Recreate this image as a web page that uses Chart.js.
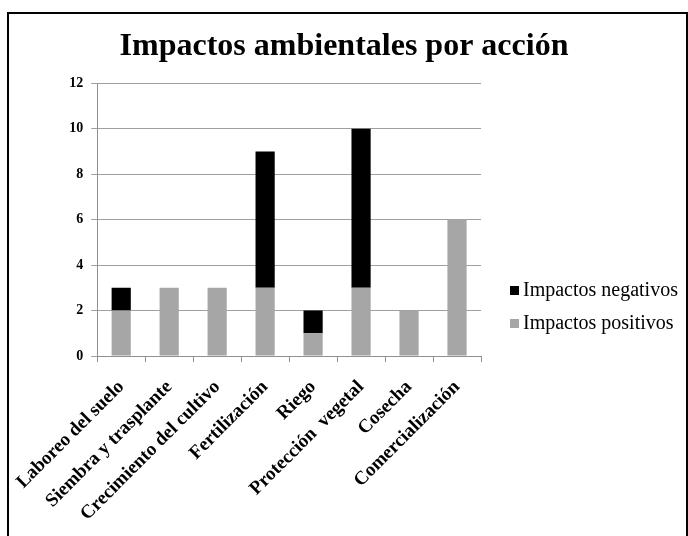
<!DOCTYPE html>
<html lang="es">
<head>
    <meta charset="UTF-8">
    <title>Impactos ambientales por acción</title>
    <script src="https://cdn.jsdelivr.net/npm/chart.js"></script>
    <style>
        body {
            margin: 0;
            background-color: white;
            width: 688px;
            height: 536px;
            overflow: hidden;
            position: relative;
            font-family: "Liberation Serif", "Times New Roman", serif;
        }
        .frame {
            position: absolute;
            left: 7px;
            top: 12px;
            width: 677px;
            height: 540px;
            border: 2px solid #000;
            border-bottom: none;
            pointer-events: none;
        }
        .chart-container {
            position: absolute;
            left: 0;
            top: 0;
            width: 688px;
            height: 536px;
        }
        #legend {
            position: absolute;
            left: 510px;
            top: 273px;
            font-size: 20px;
            line-height: 33px;
            color: #000;
            white-space: nowrap;
        }
        #legend .swatch {
            display: inline-block;
            width: 9px;
            height: 9px;
            margin-right: 4px;
            vertical-align: 1px;
        }
    </style>
</head>
<body>
    <div class="chart-container">
        <canvas id="impactChart"></canvas>
    </div>
    <div id="legend"></div>
    <div class="frame"></div>

    <script>
        const acciones = ['Laboreo del suelo', 'Siembra y trasplante', 'Crecimiento del cultivo',
            'Fertilización', 'Riego', 'Protección  vegetal', 'Cosecha', 'Comercialización'];
        const positivos = [2, 3, 3, 3, 1, 3, 2, 6];
        const negativos = [1, 0, 0, 6, 1, 7, 0, 0];
        const yTicks = [0, 2, 4, 6, 8, 10, 12];

        const serif = 'Liberation Serif, Times New Roman, serif';

        const impactChart = new Chart(document.getElementById('impactChart'), {
            type: 'bar',
            data: {
                labels: acciones,
                datasets: [{
                    label: 'Impactos positivos',
                    data: positivos,
                    backgroundColor: '#a6a6a6',
                    barPercentage: 0.4,
                    categoryPercentage: 1.0
                }, {
                    label: 'Impactos negativos',
                    data: negativos,
                    backgroundColor: '#000000',
                    barPercentage: 0.4,
                    categoryPercentage: 1.0
                }]
            },
            options: {
                responsive: true,
                maintainAspectRatio: false,
                animation: false,
                layout: {
                    padding: 0
                },
                scales: {
                    x: {
                        stacked: true,
                        afterFit: function(axis) {
                            axis.height = 180;
                        },
                        grid: {
                            display: true,
                            drawOnChartArea: false,
                            color: '#909090',
                            tickLength: 6
                        },
                        border: { color: '#909090' },
                        ticks: {
                            color: '#000',
                            padding: 14,
                            maxRotation: 45,
                            minRotation: 45,
                            font: { family: serif, size: 19, weight: 'bold' }
                        }
                    },
                    y: {
                        stacked: true,
                        min: 0,
                        max: 12,
                        afterBuildTicks: function(axis) {
                            axis.ticks = yTicks.map(v => ({ value: v }));
                        },
                        afterFit: function(axis) {
                            axis.width = 95;
                        },
                        grid: {
                            color: '#a0a0a0',
                            tickLength: 6
                        },
                        border: { color: '#909090' },
                        ticks: {
                            color: '#000',
                            padding: 8,
                            font: { family: serif, size: 14, weight: 'bold' }
                        }
                    },
                    // empty axis on the right, only keeps room for the legend
                    spacer: {
                        type: 'linear',
                        position: 'right',
                        afterFit: function(axis) {
                            axis.width = 207;
                        },
                        grid: { display: false },
                        border: { display: false },
                        ticks: { display: false }
                    }
                },
                plugins: {
                    title: {
                        display: true,
                        text: 'Impactos ambientales por acción',
                        color: '#000',
                        font: { family: serif, size: 32, weight: 'bold' },
                        padding: { top: 28, bottom: 17 }
                    },
                    legend: { display: false },
                    tooltip: { enabled: false }
                }
            }
        });

        // legend on the right, negatives first as in the original
        const legend = document.getElementById('legend');
        impactChart.data.datasets.slice().reverse().forEach(ds => {
            const row = document.createElement('div');
            row.innerHTML = '<span class="swatch" style="background:' + ds.backgroundColor + '"></span>' + ds.label;
            legend.appendChild(row);
        });
    </script>
</body>
</html>
